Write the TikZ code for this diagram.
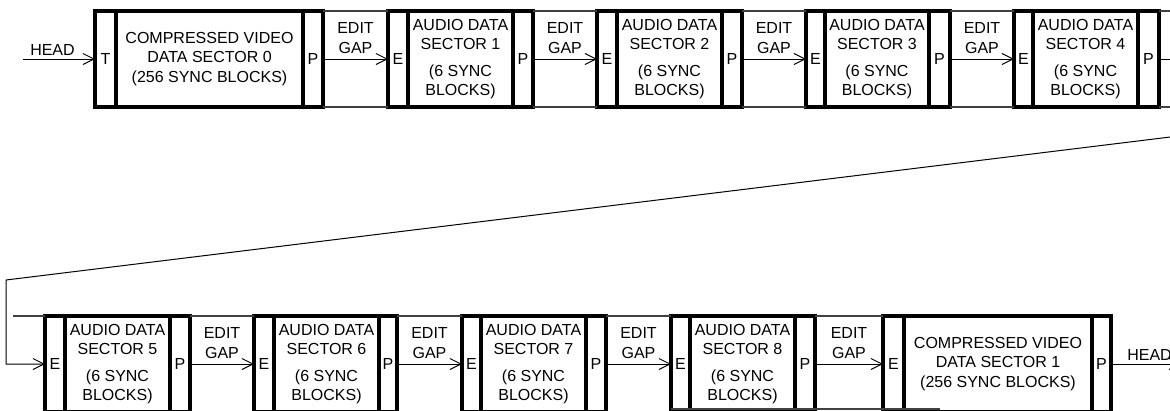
\documentclass[tikz,border=0pt]{standalone}
\usepackage{fontspec}
\setmainfont{Liberation Sans}
\usetikzlibrary{arrows.meta,calc}
\tikzset{
  part/.style={draw, line width=3.5pt, inner sep=0pt, outer sep=0pt, anchor=north west,
    minimum height=96pt, align=center, font=\fontsize{16}{19.5}\selectfont},
  gapline/.style={draw=black!75, line width=1.2pt},
  arr/.style={line width=1pt, -{Straight Barb[length=11pt,width=11pt,line width=1pt]}},
  plainline/.style={line width=1pt},
  lbl/.style={inner sep=0pt, align=center, font=\fontsize{16}{19.5}\selectfont},
}
\newcommand{\secbox}[8]{%
  \node[part, minimum width={#3-#2}] (#1e) at (#2,#6) {#7};
  \node[part, minimum width={#4-#3}] (#1m) at (#3,#6) {#8};
  \node[part, minimum width={#5-#4}] (#1p) at (#4,#6) {P};
}
\newcommand{\audiotext}[1]{AUDIO DATA\\SECTOR #1\\[7pt](6 SYNC\\BLOCKS)}
\newcommand{\videotext}[1]{COMPRESSED VIDEO\\DATA SECTOR #1\\(256 SYNC BLOCKS)}
\begin{document}
\begin{tikzpicture}[x=1pt,y=-1pt]
\useasboundingbox (0,0) rectangle (1170,410);
\clip (0,0) rectangle (1170,410);
\fill[white] (0,0) rectangle (1170,410);

% top row
\secbox{v0}{95}{116}{303}{323}{11}{T}{\videotext{0}}
\secbox{a1}{388}{408}{513}{533}{11}{E}{\audiotext{1}}
\secbox{a2}{597}{617}{722}{742}{11}{E}{\audiotext{2}}
\secbox{a3}{806}{825}{929}{950}{11}{E}{\audiotext{3}}
\secbox{a4}{1014}{1033}{1138}{1159}{11}{E}{\audiotext{4}}

% bottom row
\secbox{a5}{45}{65}{170}{190}{316}{E}{\audiotext{5}}
\secbox{a6}{254}{274}{379}{397}{316}{E}{\audiotext{6}}
\secbox{a7}{462}{481}{586}{606}{316}{E}{\audiotext{7}}
\secbox{a8}{671}{690}{795}{815}{316}{E}{\audiotext{8}}
\secbox{v1}{883}{904}{1092}{1111}{316}{E}{\videotext{1}}

% edit gaps
\foreach \a/\b in {v0/a1,a1/a2,a2/a3,a3/a4,a5/a6,a6/a7,a7/a8,a8/v1}{
  \draw[gapline] (\a p.north east) -- (\b e.north west);
  \draw[gapline] (\a p.south east) -- (\b e.south west);
  \draw[arr] (\a p.east) -- (\b e.west);
  \node[lbl] (gap-\a) at ($(\a p.east)!0.5!(\b e.west)+(0,-21)$) {EDIT\\GAP};
}

% head in
\coordinate (hs) at (23,59);
\draw[arr] (hs) -- (v0e.west);
\node[lbl] (head1) at (52.5,50) {HEAD};

% continuation to the right of sector 4
\coordinate (rt) at (1190,11);
\coordinate (rm) at (1190,59);
\coordinate (rb) at (1190,107);
\draw[gapline] (a4p.north east) -- (rt);
\draw[gapline] (a4p.south east) -- (rb);
\draw[plainline] (a4p.east) -- (rm);

% wrap-around connector
\coordinate (d0) at (1185,135.2);
\coordinate (d1) at (6,280);
\draw[arr] (d0) -- (d1) |- (a5e.west);
\coordinate (lt) at (13,316);
\draw[gapline] (lt) -- (a5e.north west);

% bottom edge of sector 8 region
\coordinate (c1) at (671,409);
\coordinate (c2) at (940,409);
\draw[gapline] (c1) -- (c2);

% head out
\coordinate (he) at (1181,364);
\draw[arr] (v1p.east) -- (he);
\node[lbl] (head2) at (1149.5,355) {HEAD};
\end{tikzpicture}
\end{document}
